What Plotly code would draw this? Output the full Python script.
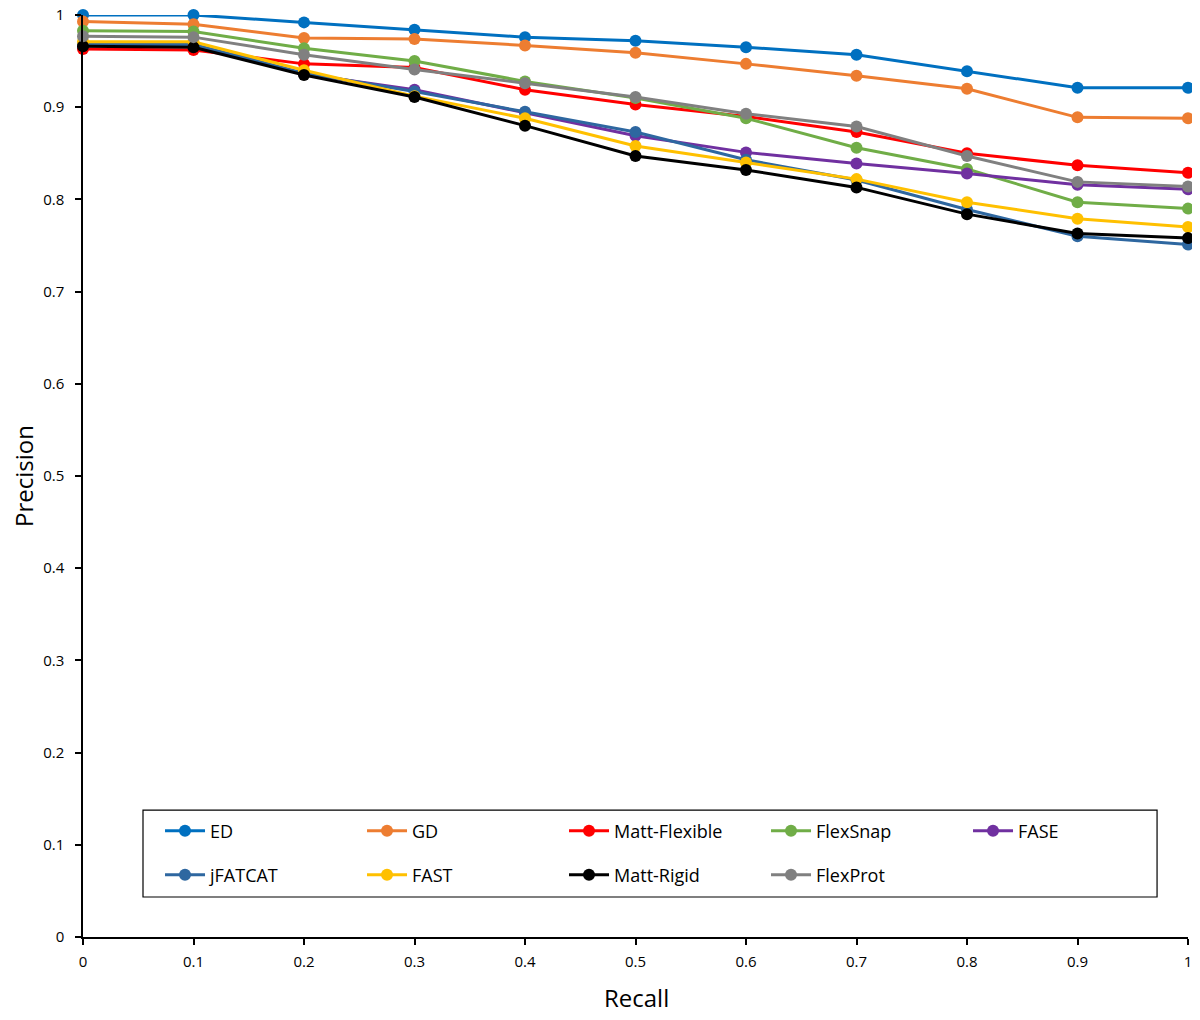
import plotly.graph_objects as go

recall = [0, 0.1, 0.2, 0.3, 0.4, 0.5, 0.6, 0.7, 0.8, 0.9, 1.0]

series_names = ["ED", "GD", "Matt-Flexible", "FlexSnap", "FASE",
                "jFATCAT", "FAST", "Matt-Rigid", "FlexProt"]
series_colors = ["#0070C0", "#ED7D31", "#FF0000", "#70AD47", "#7030A0",
                 "#2E67A0", "#FFC000", "#000000", "#808080"]
legend_rows = ["legend", "legend", "legend", "legend", "legend",
               "legend2", "legend2", "legend2", "legend2"]

ed = [1.000, 1.000, 0.992, 0.984, 0.976, 0.972, 0.965, 0.957, 0.939, 0.921, 0.921]
gd = [0.993, 0.990, 0.975, 0.974, 0.967, 0.959, 0.947, 0.934, 0.920, 0.889, 0.888]
matt_flexible = [0.963, 0.962, 0.947, 0.943, 0.919, 0.903, 0.890, 0.873, 0.850, 0.837, 0.829]
flexsnap = [0.983, 0.982, 0.964, 0.950, 0.928, 0.910, 0.888, 0.856, 0.833, 0.797, 0.790]
fase = [0.967, 0.967, 0.936, 0.919, 0.894, 0.869, 0.851, 0.839, 0.828, 0.816, 0.811]
jfatcat = [0.968, 0.968, 0.937, 0.917, 0.895, 0.873, 0.843, 0.821, 0.789, 0.760, 0.751]
fast = [0.971, 0.971, 0.940, 0.912, 0.888, 0.858, 0.840, 0.822, 0.797, 0.779, 0.770]
matt_rigid = [0.966, 0.965, 0.935, 0.911, 0.880, 0.847, 0.832, 0.813, 0.784, 0.763, 0.758]
flexprot = [0.977, 0.976, 0.957, 0.941, 0.926, 0.911, 0.893, 0.879, 0.847, 0.819, 0.814]

series_values = [ed, gd, matt_flexible, flexsnap, fase, jfatcat, fast, matt_rigid, flexprot]

y_ticks = [0, 0.1, 0.2, 0.3, 0.4, 0.5, 0.6, 0.7, 0.8, 0.9, 1]
y_tick_labels = ["0", "0.1", "0.2", "0.3", "0.4", "0.5", "0.6", "0.7", "0.8", "0.9", "1"]
x_ticks = recall
x_tick_labels = ["0", "0.1", "0.2", "0.3", "0.4", "0.5", "0.6", "0.7", "0.8", "0.9", "1"]

FONT = "Open Sans, Noto Sans, sans-serif"

fig = go.Figure()
for name, color, vals, lg in zip(series_names, series_colors, series_values, legend_rows):
    fig.add_trace(go.Scatter(
        x=recall, y=vals, name=name, mode="lines+markers",
        line=dict(color=color, width=3),
        marker=dict(color=color, size=12, symbol="circle"),
        cliponaxis=False, legend=lg,
    ))

legend_common = dict(
    orientation="h", xanchor="left", yanchor="middle",
    borderwidth=0, bgcolor="rgba(0,0,0,0)",
    font=dict(family=FONT, size=18, color="#000000"),
    entrywidth=147, entrywidthmode="pixels",
    itemwidth=40, traceorder="normal",
)

fig.update_layout(
    width=1192, height=1012,
    margin=dict(l=75, r=12, t=7, b=83),
    paper_bgcolor="white", plot_bgcolor="white",
    font=dict(family=FONT, color="#000000", size=15),
    showlegend=True,
    legend=dict(x=0.0697, y=0.115, **legend_common),
    legend2=dict(x=0.0697, y=0.0672, **legend_common),
    shapes=[dict(type="rect", xref="paper", yref="paper",
                 x0=0.0543, x1=0.972, y0=0.0434, y1=0.1377,
                 line=dict(color="#000000", width=1.2), layer="below")],
    xaxis=dict(
        range=[0, 1], tickvals=x_ticks, ticktext=x_tick_labels,
        showgrid=False, zeroline=False, automargin=False,
        showline=True, linecolor="#000000", linewidth=1.5,
        ticks="outside", ticklen=6, tickcolor="#000000", tickwidth=1.5,
        tickfont=dict(size=15), ticklabelstandoff=4,
        ticklabeloverflow="allow",
    ),
    yaxis=dict(
        range=[0, 1], tickvals=y_ticks, ticktext=y_tick_labels,
        showgrid=False, zeroline=False, automargin=False,
        showline=True, linecolor="#000000", linewidth=1.5,
        ticks="outside", ticklen=6, tickcolor="#000000", tickwidth=1.5,
        tickfont=dict(size=15), ticklabelstandoff=8,
        ticklabeloverflow="allow",
    ),
    annotations=[
        dict(text="Recall", xref="paper", yref="paper",
             x=(636 - 83) / 1105, y=(937 - 997) / 922,
             xanchor="center", yanchor="middle", showarrow=False,
             font=dict(size=24, family=FONT)),
        dict(text="Precision", xref="paper", yref="paper",
             x=(23 - 83) / 1105, y=(937 - 476) / 922,
             xanchor="center", yanchor="middle", showarrow=False,
             textangle=-90, font=dict(size=24, family=FONT)),
    ],
)

fig.write_html("out.html")
